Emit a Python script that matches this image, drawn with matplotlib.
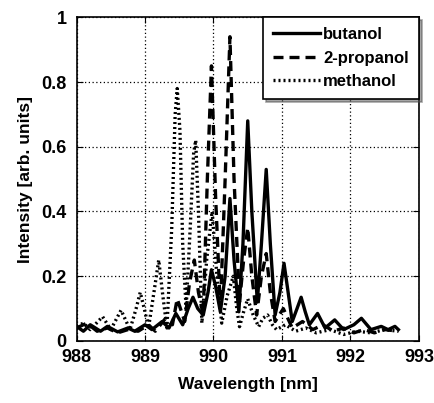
import matplotlib
matplotlib.use("Agg")
import matplotlib.pyplot as plt

plt.rcParams["font.family"] = ["Liberation Sans", "DejaVu Sans"]
plt.rcParams["font.weight"] = "bold"

# butanol (solid)
but_x = [988.0, 988.1, 988.2, 988.35, 988.45, 988.6, 988.75, 988.85, 989.0, 989.1,
         989.25, 989.35, 989.45, 989.55, 989.63, 989.7, 989.77, 989.85, 989.92, 989.97,
         990.03, 990.1, 990.17, 990.24, 990.3, 990.37, 990.43, 990.5, 990.56, 990.64,
         990.7, 990.77, 990.83, 990.9, 990.97, 991.03, 991.09, 991.15, 991.22, 991.28,
         991.34, 991.4, 991.52, 991.63, 991.77, 991.9, 992.05, 992.16, 992.3, 992.45,
         992.55, 992.65, 992.7]
but_y = [0.045, 0.03, 0.05, 0.03, 0.045, 0.028, 0.04, 0.03, 0.05, 0.035,
         0.06, 0.04, 0.085, 0.05, 0.1, 0.135, 0.1, 0.08, 0.15, 0.22,
         0.17, 0.09, 0.2, 0.44, 0.25, 0.09, 0.3, 0.68, 0.4, 0.12,
         0.3, 0.53, 0.3, 0.08, 0.15, 0.24, 0.15, 0.06, 0.1, 0.135,
         0.09, 0.05, 0.085, 0.04, 0.065, 0.035, 0.05, 0.07, 0.035, 0.045,
         0.035, 0.045, 0.035]

# 2-propanol (dashed)
pro_x = [988.0, 988.15, 988.3, 988.45, 988.6, 988.75, 988.9, 989.05, 989.15, 989.3,
         989.4, 989.47, 989.58, 989.65, 989.72, 989.78, 989.85, 989.91, 989.97, 990.03,
         990.1, 990.17, 990.24, 990.3, 990.38, 990.44, 990.5, 990.56, 990.63, 990.7,
         990.77, 990.83, 990.9, 990.96, 991.02, 991.15, 991.3, 991.45, 991.6, 991.75,
         991.9, 992.05, 992.2, 992.35, 992.5, 992.7]
pro_y = [0.04, 0.055, 0.03, 0.04, 0.025, 0.035, 0.03, 0.05, 0.03, 0.07,
         0.05, 0.13, 0.06, 0.18, 0.25, 0.15, 0.08, 0.5, 0.85, 0.45,
         0.1, 0.5, 0.94, 0.5, 0.12, 0.25, 0.35, 0.2, 0.08, 0.2,
         0.27, 0.15, 0.06, 0.08, 0.1, 0.04, 0.06, 0.035, 0.05, 0.03,
         0.04, 0.025, 0.035, 0.025, 0.035, 0.03]

# methanol (dotted)
met_x = [988.0, 988.1, 988.2, 988.38, 988.5, 988.65, 988.78, 988.87, 988.93, 989.0,
         989.05, 989.13, 989.2, 989.26, 989.32, 989.39, 989.44, 989.47, 989.51, 989.55,
         989.6, 989.66, 989.71, 989.74, 989.78, 989.83, 989.9, 989.98, 990.05, 990.12,
         990.2, 990.29, 990.34, 990.38, 990.44, 990.5, 990.58, 990.66, 990.72, 990.79,
         990.86, 990.92, 991.05, 991.2, 991.35, 991.5, 991.7, 991.9, 992.1, 992.3,
         992.5, 992.7]
met_y = [0.045, 0.055, 0.035, 0.075, 0.035, 0.095, 0.035, 0.1, 0.15, 0.09,
         0.04, 0.15, 0.25, 0.14, 0.04, 0.35, 0.7, 0.78, 0.65, 0.3,
         0.1, 0.35, 0.58, 0.62, 0.4, 0.055, 0.25, 0.4, 0.2, 0.055,
         0.14, 0.2, 0.1, 0.044, 0.09, 0.13, 0.08, 0.044, 0.07, 0.08,
         0.05, 0.035, 0.05, 0.03, 0.04, 0.025, 0.035, 0.02, 0.03, 0.025,
         0.035, 0.03]

fig = plt.figure(figsize=(4.35, 4.03), dpi=100)
ax = fig.add_axes([0.176, 0.154, 0.787, 0.803])

ax.plot(but_x, but_y, color="black", lw=2.4, ls="-", label="butanol")
ax.plot(pro_x, pro_y, color="black", lw=2.4, ls=(0, (3, 1.8)), label="2-propanol")
ax.plot(met_x, met_y, color="black", lw=2.4, ls=(0, (0.6, 0.9)), label="methanol")

ax.set_xlim(988, 993)
ax.set_ylim(0, 1)
ax.set_xticks([988, 989, 990, 991, 992, 993])
ax.set_yticks([0, 0.2, 0.4, 0.6, 0.8, 1])
ax.set_yticklabels(["0", "0.2", "0.4", "0.6", "0.8", "1"])
ax.grid(True, color="black", ls=(0, (1, 2)), lw=0.9)
ax.tick_params(direction="in", top=True, right=True, labelsize=13, length=4)
ax.tick_params(axis="x", pad=6)
ax.tick_params(axis="y", pad=7)
for s in ax.spines.values():
    s.set_linewidth(1.2)

ax.set_xlabel("Wavelength [nm]", fontsize=12.5, fontweight="bold", labelpad=8)
ax.set_ylabel("Intensity [arb. units]", fontsize=12.5, fontweight="bold", labelpad=6)

leg = ax.legend(loc="upper right", fontsize=12, frameon=True, fancybox=False,
                shadow=True, borderaxespad=0, handlelength=2.8, borderpad=0.6,
                labelspacing=0.5, handletextpad=0.2)
leg.get_frame().set_edgecolor("black")
leg.get_frame().set_linewidth(1.2)

fig.savefig("out.png", dpi=100)
